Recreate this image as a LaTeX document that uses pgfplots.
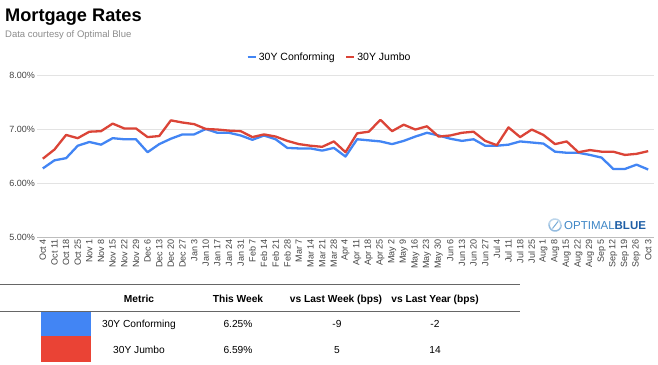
\documentclass[border=0pt]{standalone}
\usepackage{pgfplots}
\pgfplotsset{compat=1.18}
\usepackage{pgfplotstable}
\usepackage{fontspec}
\setmainfont{Liberation Sans}
\definecolor{cblue}{HTML}{4285F4}
\definecolor{cred}{HTML}{DB4437}
\definecolor{tred}{HTML}{EA4335}
\definecolor{gridc}{HTML}{E3E3E3}
\definecolor{axc}{HTML}{BDBDBD}
\definecolor{lblc}{HTML}{444444}
\definecolor{obl}{HTML}{3D86C6}
\definecolor{obd}{HTML}{1F5FA6}

\pgfplotstableread{
i conf jumbo
0 6.27 6.45
1 6.42 6.62
2 6.46 6.89
3 6.69 6.83
4 6.76 6.95
5 6.71 6.96
6 6.83 7.10
7 6.81 7.01
8 6.81 7.01
9 6.57 6.85
10 6.72 6.87
11 6.82 7.16
12 6.90 7.12
13 6.90 7.09
14 7.00 7.00
15 6.93 6.99
16 6.93 6.97
17 6.88 6.96
18 6.80 6.85
19 6.88 6.90
20 6.81 6.86
21 6.65 6.78
22 6.64 6.72
23 6.64 6.69
24 6.60 6.67
25 6.65 6.77
26 6.49 6.57
27 6.81 6.92
28 6.79 6.95
29 6.77 7.17
30 6.72 6.96
31 6.78 7.08
32 6.86 6.99
33 6.93 7.05
34 6.88 6.86
35 6.82 6.88
36 6.78 6.93
37 6.81 6.95
38 6.69 6.78
39 6.69 6.70
40 6.71 7.03
41 6.77 6.85
42 6.75 6.99
43 6.73 6.89
44 6.58 6.72
45 6.56 6.77
46 6.56 6.57
47 6.52 6.61
48 6.47 6.58
49 6.26 6.58
50 6.26 6.52
51 6.34 6.54
52 6.25 6.59
}\ratesdata

\begin{document}
\begin{tikzpicture}
\path[use as bounding box, fill=white] (0,0) rectangle (658pt,-364pt);
\node[anchor=base west, inner sep=0, font=\fontsize{18.2}{20}\selectfont\bfseries] at (5pt,-21pt) {Mortgage Rates};
\node[anchor=base west, inner sep=0, font=\fontsize{9.5}{11}\selectfont, text=black!45] at (5pt,-37pt) {Data courtesy of Optimal Blue};
\begin{axis}[
  at={(37pt,-237pt)}, anchor=south west,
  scale only axis, width=617pt, height=162pt,
  xmin=-0.5, xmax=52.5, ymin=5, ymax=8,
  xtick={0,...,52},
  xticklabels={Oct 4,Oct 11,Oct 18,Oct 25,Nov 1,Nov 8,Nov 15,Nov 22,Nov 29,Dec 6,Dec 13,Dec 20,Dec 27,Jan 3,Jan 10,Jan 17,Jan 24,Jan 31,Feb 7,Feb 14,Feb 21,Feb 28,Mar 7,Mar 14,Mar 21,Mar 28,Apr 4,Apr 11,Apr 18,Apr 25,May 2,May 9,May 16,May 23,May 30,Jun 6,Jun 13,Jun 20,Jun 27,Jul 4,Jul 11,Jul 18,Jul 25,Aug 1,Aug 8,Aug 15,Aug 22,Aug 29,Sep 5,Sep 12,Sep 19,Sep 26,Oct 3},
  xticklabel style={rotate=90, anchor=east, font=\fontsize{9}{10}\selectfont, text=lblc, inner sep=2pt},
  ytick={5,6,7,8},
  yticklabel={\pgfmathprintnumber[fixed,fixed zerofill,precision=2]{\tick}\%},
  /pgf/number format/assume math mode=true,
  yticklabel style={font=\fontsize{9}{10}\selectfont, text=lblc, inner sep=2pt},
  ymajorgrids, grid style={gridc, line width=0.8pt},
  axis line style={draw=none},
  major tick length=0pt,
  legend style={at={(0.334,1.111)}, anchor=west, draw=none, fill=none,
    font=\fontsize{10.5}{12}\selectfont, legend columns=2,
    /tikz/every even column/.append style={column sep=8pt}},
  legend image code/.code={\draw[line width=2.6pt] (0pt,0pt) -- (8pt,0pt);},
  after end axis/.code={\draw[axc, line width=0.8pt] (rel axis cs:0,0) -- (rel axis cs:1,0);},
]
\addplot[cblue, line width=2.3pt, line join=round] table[x=i, y=conf] {\ratesdata};
\addlegendentry{30Y Conforming}
\addplot[cred, line width=2.3pt, line join=round] table[x=i, y=jumbo] {\ratesdata};
\addlegendentry{30Y Jumbo}
\end{axis}
% logo
\begin{scope}[shift={(555pt,-225pt)}]
\draw[obl!55, line width=1.5pt] (-5.5pt,2pt) arc (160:360:6pt);
\draw[obl!35, line width=1.5pt] (5.5pt,-2pt) arc (-20:180:6pt);
\draw[obl!70, line width=1pt] (-2.5pt,-3.5pt) -- (3pt,3.5pt);
\end{scope}
\node[anchor=west, inner sep=0, font=\fontsize{11.5}{12}\selectfont] at (564pt,-225.5pt) {\textcolor{obl}{OPTIMAL}\textcolor{obd}{\bfseries BLUE}};
% table
\draw[black!60, line width=0.8pt] (0pt,-284pt) -- (520pt,-284pt);
\draw[black!60, line width=0.8pt] (0pt,-311pt) -- (520pt,-311pt);
\begin{scope}[every node/.style={anchor=base, inner sep=0, font=\fontsize{10.2}{12}\selectfont}]
\node[font=\fontsize{10.2}{12}\selectfont\bfseries] at (139pt,-302pt) {Metric};
\node[font=\fontsize{10.2}{12}\selectfont\bfseries] at (238pt,-302pt) {This Week};
\node[font=\fontsize{10.2}{12}\selectfont\bfseries] at (336pt,-302pt) {vs Last Week (bps)};
\node[font=\fontsize{10.2}{12}\selectfont\bfseries] at (435pt,-302pt) {vs Last Year (bps)};
\node at (139pt,-327pt) {30Y Conforming};
\node at (238pt,-327pt) {6.25\%};
\node at (337pt,-327pt) {-9};
\node at (435pt,-327pt) {-2};
\node at (139pt,-353pt) {30Y Jumbo};
\node at (238pt,-353pt) {6.59\%};
\node at (337pt,-353pt) {5};
\node at (435pt,-353pt) {14};
\end{scope}
\fill[cblue] (40.7pt,-312pt) rectangle (90.7pt,-336pt);
\fill[tred] (40.7pt,-336pt) rectangle (90.7pt,-362pt);
\end{tikzpicture}
\end{document}
